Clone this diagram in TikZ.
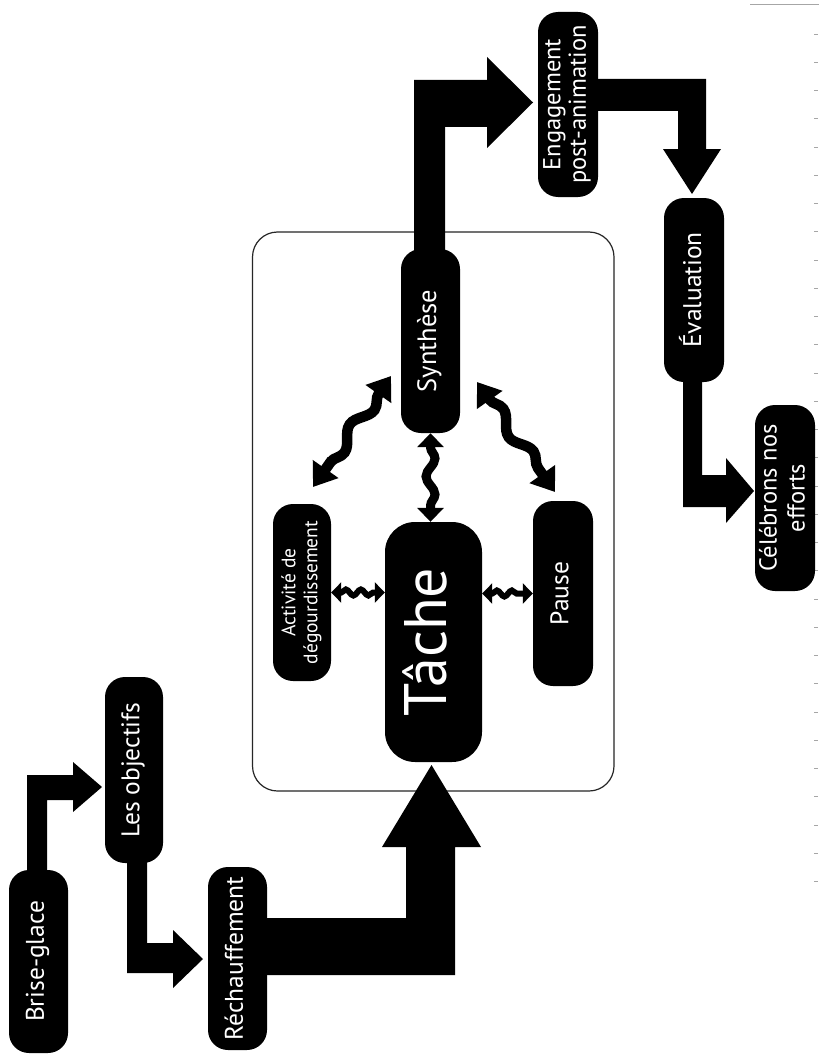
\documentclass[tikz,border=0pt]{standalone}
\usepackage{fontspec}
\newfontfamily\lab{PT Sans}
\usetikzlibrary{decorations.pathmorphing,arrows.meta,calc}
\newcommand\rt[1]{\rotatebox{90}{\begin{tabular}{@{}c@{}}#1\end{tabular}}}
\begin{document}
\begin{tikzpicture}[x=1pt,y=-1pt,
  box/.style={rectangle,rounded corners=20pt,fill=black,text=white,inner sep=0pt,
    font=\lab\fontsize{25.5}{27}\selectfont},
  frame/.style={draw=black!85,line width=1.2pt,rounded corners=25pt,rectangle,inner sep=0pt},
  blk/.style={fill=black},
  wav/.style={line width=10.5pt,decorate,
    decoration={snake,amplitude=6pt,segment length=52pt,pre length=21pt,post length=21pt},
    arrows={Triangle[width=30pt,length=22pt]-Triangle[width=30pt,length=22pt]}},
  wavm/.style={line width=9pt,decorate,
    decoration={snake,amplitude=4.5pt,segment length=36pt,pre length=14pt,post length=14pt},
    arrows={Triangle[width=26pt,length=14pt]-Triangle[width=26pt,length=14pt]}},
  wavs/.style={line width=6pt,decorate,
    decoration={snake,amplitude=3pt,segment length=15pt,pre length=10pt,post length=10pt},
    arrows={Triangle[width=20pt,length=10pt]-Triangle[width=20pt,length=10pt]}},
  tick/.style={draw=black!35,line width=0.8pt}
]
\useasboundingbox (0,0) rectangle (819,1062);
\fill[white] (0,0) rectangle (819,1062);

% container
\node[frame,minimum width=361.5pt,minimum height=559pt] (fr) at (433.25,511.5) {};

% faint scan marks on the right edge
\draw[tick] (750,4) -- (819,4);
\foreach \i in {0,...,30} \draw[tick] (814,{34+28.25*\i}) -- (818,{34+28.25*\i});

% block arrows
\fill[blk] (27,872) -- (27,775) -- (73,775) -- (73,762) -- (102,787) -- (73,812) -- (73,800) -- (47,800) -- (47,872) -- cycle;
\fill[blk] (127,860) -- (127,973) -- (173,973) -- (173,988) -- (203,959) -- (173,930) -- (173,943) -- (147,943) -- (147,860) -- cycle;
\fill[blk] (265,918) -- (406,918) -- (406,847) -- (382,847) -- (431.5,765) -- (481,847) -- (455,847) -- (455,975) -- (265,975) -- cycle;
\fill[blk] (414,252) -- (414,80) -- (487,80) -- (487,57) -- (533,102.5) -- (487,148) -- (487,127) -- (445,127) -- (445,252) -- cycle;
\fill[blk] (595,79) -- (706,79) -- (706,149) -- (721,149) -- (692,194) -- (663,149) -- (678,149) -- (678,111) -- (595,111) -- cycle;
\fill[blk] (683,380) -- (683,507) -- (726,507) -- (726,523) -- (754,491) -- (726,458) -- (726,475) -- (702,475) -- (702,380) -- cycle;

% nodes
\node[box,minimum width=59pt,minimum height=183pt] (bg) at (38.5,961.5) {\rt{Brise-glace}};
\node[box,minimum width=58pt,minimum height=186pt] (obj) at (134,770) {\rt{Les objectifs}};
\node[box,minimum width=59pt,minimum height=183pt] (rech) at (237.5,958.5) {\rt{Réchauffement}};
\node[box,rounded corners=30pt,minimum width=97pt,minimum height=240pt,
  font=\lab\fontsize{60}{64}\selectfont] (tache) at (433.5,642) {\rt{Tâche}};
\node[box,minimum width=58pt,minimum height=177pt,font=\lab\fontsize{19.5}{22}\selectfont]
  (act) at (302,592.5) {\rt{Activité de\\dégourdissement}};
\node[box,minimum width=60pt,minimum height=185pt] (pause) at (563,593.5) {\rt{Pause}};
\node[box,minimum width=59pt,minimum height=184pt,font=\lab\fontsize{26.5}{28}\selectfont] (syn) at (430.5,341) {\rt{Synthèse}};
\node[box,minimum width=60pt,minimum height=185pt,font=\lab\fontsize{24.5}{25.5}\selectfont]
  (eng) at (568,104.5) {\rt{Engagement\\post-animation}};
\node[box,minimum width=60pt,minimum height=184pt] (eval) at (694,290) {\rt{Évaluation}};
\node[box,minimum width=60pt,minimum height=186pt,font=\lab\fontsize{24.5}{28}\selectfont]
  (cel) at (785,498) {\rt{Célébrons nos\\efforts}};

% wavy double arrows
\coordinate (sa1) at (391,376);
\coordinate (sa2) at (313,487);
\coordinate (sp1) at (477,382);
\coordinate (sp2) at (555,492);
\draw[wav] (sa1) -- (sa2);
\draw[wav] (sp1) -- (sp2);
\draw[wavm] (syn.south) -- (syn.south |- tache.north);
\draw[wavs] (act.east) -- (act.east -| tache.west);
\draw[wavs] (tache.east |- pause.west) -- (pause.west);
\end{tikzpicture}
\end{document}
